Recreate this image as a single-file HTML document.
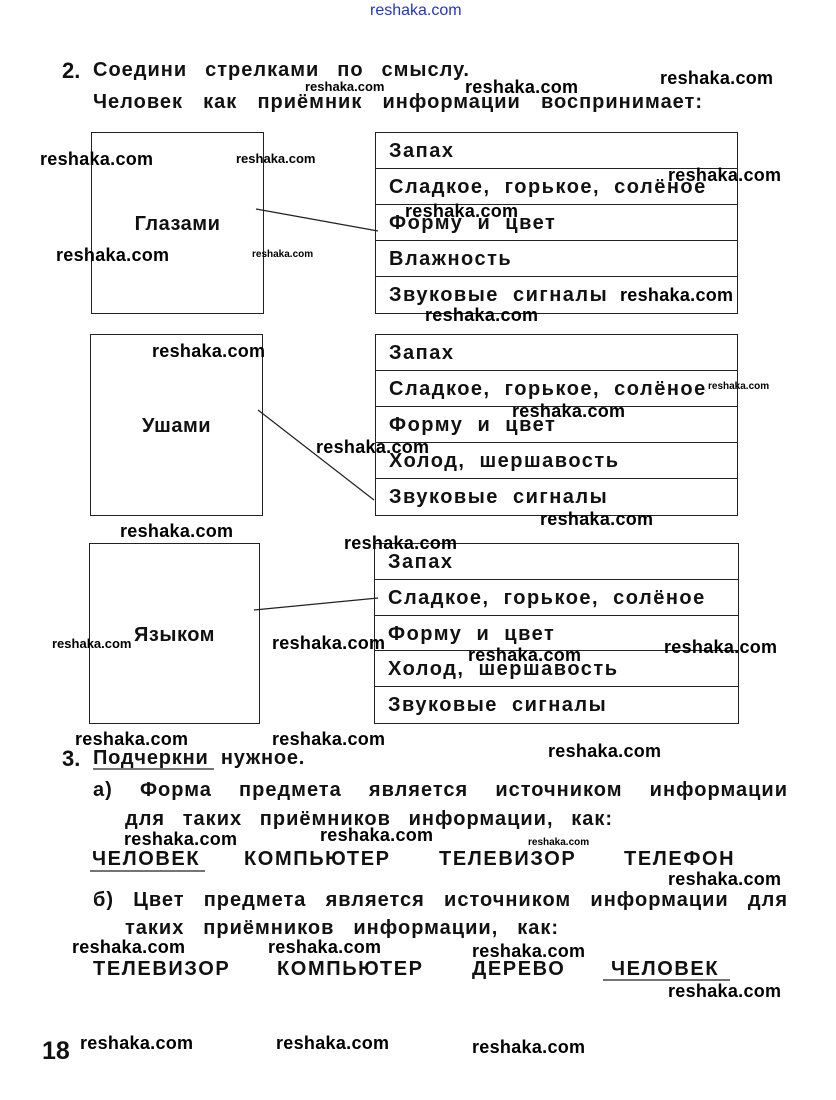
<!DOCTYPE html>
<html><head><meta charset="utf-8"><style>
body{margin:0;width:836px;height:1100px;background:#fff;position:relative;overflow:hidden;font-family:"Liberation Sans","DejaVu Sans",sans-serif;color:#111}
.a{position:absolute;white-space:nowrap}
.t{position:absolute;font-size:20px;font-weight:bold;letter-spacing:1px;text-align:justify;text-align-last:justify;white-space:nowrap;line-height:24px}
.w{position:absolute;font-size:18px;font-weight:bold;letter-spacing:0.3px;white-space:nowrap;color:#000;line-height:20px}
.s{font-size:13px;line-height:14px;letter-spacing:0}
.xs{font-size:10px;line-height:12px;letter-spacing:0}
.box{position:absolute;border:1.5px solid #222;box-sizing:border-box}
.tab{position:absolute;border:1.5px solid #222;box-sizing:border-box}
.tab div{height:20%;border-bottom:1.5px solid #222;box-sizing:border-box;font-size:20px;font-weight:bold;letter-spacing:1.5px;padding-left:13px;line-height:36px;word-spacing:7px}
.tab div:last-child{border-bottom:none}
.lbl{position:absolute;width:100%;text-align:center;font-size:20px;font-weight:bold;letter-spacing:0.5px}
.n{font-weight:bold;font-size:22px}
.c{position:absolute;font-size:20px;font-weight:bold;letter-spacing:1.6px;white-space:nowrap}
</style></head><body>
<div class="a" style="left:370px;top:2px;font-size:16px;color:#2233cc">reshaka.com</div>

<div class="a n" style="left:62px;top:58px">2.</div>
<div class="t" style="left:93px;top:58px;width:377px">Соедини стрелками по смыслу.</div>
<div class="t" style="left:93px;top:90px;width:610px">Человек как приёмник информации воспринимает:</div>

<div class="box" style="left:91px;top:132px;width:173px;height:182px"><div class="lbl" style="top:80px">Глазами</div></div>
<div class="box" style="left:90px;top:334px;width:173px;height:182px"><div class="lbl" style="top:80px">Ушами</div></div>
<div class="box" style="left:89px;top:543px;width:171px;height:181px"><div class="lbl" style="top:80px">Языком</div></div>

<div class="tab" style="left:375px;top:132px;width:363px;height:182px">
<div>Запах</div><div>Сладкое, горькое, солёное</div><div>Форму и цвет</div><div>Влажность</div><div>Звуковые сигналы</div></div>
<div class="tab" style="left:375px;top:334px;width:363px;height:182px">
<div>Запах</div><div>Сладкое, горькое, солёное</div><div>Форму и цвет</div><div>Холод, шершавость</div><div>Звуковые сигналы</div></div>
<div class="tab" style="left:374px;top:543px;width:365px;height:181px">
<div>Запах</div><div>Сладкое, горькое, солёное</div><div>Форму и цвет</div><div>Холод, шершавость</div><div>Звуковые сигналы</div></div>

<svg class="a" style="left:0;top:0" width="836" height="1100">
<line x1="256" y1="209" x2="378" y2="231" stroke="#222" stroke-width="1.2"/>
<line x1="258" y1="410" x2="374" y2="500" stroke="#222" stroke-width="1.2"/>
<line x1="254" y1="610" x2="378" y2="598" stroke="#222" stroke-width="1.2"/>
<line x1="93" y1="769" x2="214" y2="769" stroke="#222" stroke-width="1.3"/>
<line x1="90" y1="871" x2="205" y2="871" stroke="#222" stroke-width="1.3"/>
<line x1="603" y1="980" x2="730" y2="980" stroke="#222" stroke-width="1.3"/>
</svg>

<div class="a n" style="left:62px;top:746px">3.</div>
<div class="a" style="left:93px;top:747px;font-size:20px;font-weight:bold;letter-spacing:0.8px;word-spacing:6px">Подчеркни нужное.</div>
<div class="t" style="left:93px;top:778px;width:695px">а) Форма предмета является источником информации</div>
<div class="t" style="left:125px;top:807px;width:488px">для таких приёмников информации, как:</div>
<div class="c" style="left:92px;top:848px">ЧЕЛОВЕК</div>
<div class="c" style="left:244px;top:848px">КОМПЬЮТЕР</div>
<div class="c" style="left:439px;top:848px">ТЕЛЕВИЗОР</div>
<div class="c" style="left:624px;top:848px">ТЕЛЕФОН</div>
<div class="t" style="left:93px;top:888px;width:695px">б) Цвет предмета является источником информации для</div>
<div class="t" style="left:125px;top:916px;width:434px">таких приёмников информации, как:</div>
<div class="c" style="left:93px;top:958px">ТЕЛЕВИЗОР</div>
<div class="c" style="left:277px;top:958px">КОМПЬЮТЕР</div>
<div class="c" style="left:472px;top:958px">ДЕРЕВО</div>
<div class="c" style="left:611px;top:958px">ЧЕЛОВЕК</div>

<div class="a" style="left:42px;top:1037px;font-size:25px;font-weight:bold">18</div>

<div class="w s" style="left:305px;top:80px">reshaka.com</div>
<div class="w" style="left:465px;top:77px">reshaka.com</div>
<div class="w" style="left:660px;top:68px">reshaka.com</div>
<div class="w" style="left:40px;top:149px">reshaka.com</div>
<div class="w s" style="left:236px;top:152px">reshaka.com</div>
<div class="w" style="left:668px;top:165px">reshaka.com</div>
<div class="w" style="left:405px;top:201px">reshaka.com</div>
<div class="w" style="left:56px;top:245px">reshaka.com</div>
<div class="w xs" style="left:252px;top:249px">reshaka.com</div>
<div class="w" style="left:620px;top:285px">reshaka.com</div>
<div class="w" style="left:425px;top:305px">reshaka.com</div>
<div class="w" style="left:152px;top:341px">reshaka.com</div>
<div class="w xs" style="left:708px;top:381px">reshaka.com</div>
<div class="w" style="left:512px;top:401px">reshaka.com</div>
<div class="w" style="left:316px;top:437px">reshaka.com</div>
<div class="w" style="left:540px;top:509px">reshaka.com</div>
<div class="w" style="left:120px;top:521px">reshaka.com</div>
<div class="w" style="left:344px;top:533px">reshaka.com</div>
<div class="w s" style="left:52px;top:637px">reshaka.com</div>
<div class="w" style="left:272px;top:633px">reshaka.com</div>
<div class="w" style="left:664px;top:637px">reshaka.com</div>
<div class="w" style="left:468px;top:645px">reshaka.com</div>
<div class="w" style="left:75px;top:729px">reshaka.com</div>
<div class="w" style="left:272px;top:729px">reshaka.com</div>
<div class="w" style="left:548px;top:741px">reshaka.com</div>
<div class="w" style="left:124px;top:829px">reshaka.com</div>
<div class="w" style="left:320px;top:825px">reshaka.com</div>
<div class="w xs" style="left:528px;top:837px">reshaka.com</div>
<div class="w" style="left:668px;top:869px">reshaka.com</div>
<div class="w" style="left:72px;top:937px">reshaka.com</div>
<div class="w" style="left:268px;top:937px">reshaka.com</div>
<div class="w" style="left:472px;top:941px">reshaka.com</div>
<div class="w" style="left:668px;top:981px">reshaka.com</div>
<div class="w" style="left:80px;top:1033px">reshaka.com</div>
<div class="w" style="left:276px;top:1033px">reshaka.com</div>
<div class="w" style="left:472px;top:1037px">reshaka.com</div>
</body></html>
